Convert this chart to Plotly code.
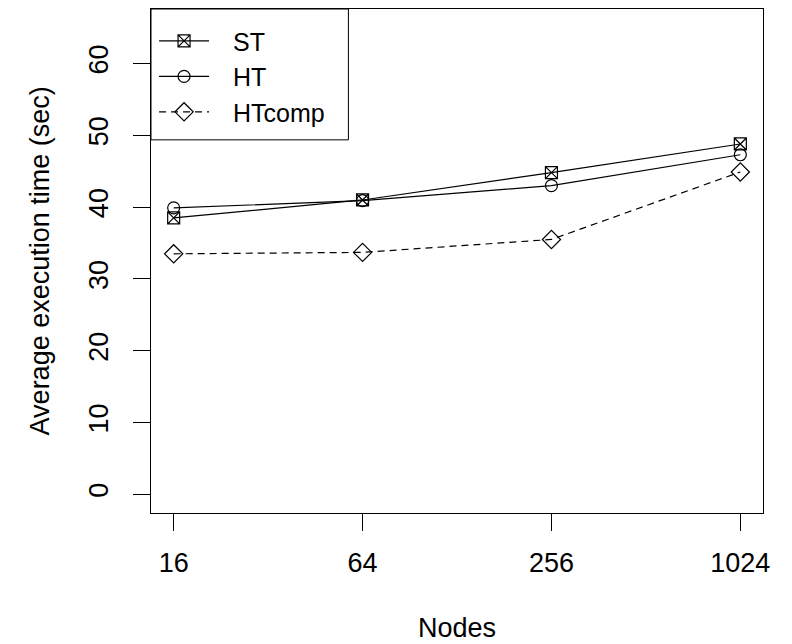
import plotly.graph_objects as go

nodes = ["16", "64", "256", "1024"]
st = [38.5, 41.0, 44.8, 48.8]
ht = [39.9, 40.9, 43.0, 47.3]
htcomp = [33.5, 33.7, 35.5, 44.9]
y_ticks = [0, 10, 20, 30, 40, 50, 60]
series_names = ["ST", "HT", "HTcomp"]

FONT = "Liberation Sans, Arial, Helvetica, sans-serif"
FS = 27
LFS = 25
W, H = 792, 644
L, R, T, B = 150.7, 28.7, 9.3, 131.3
pw, ph = W - L - R, H - T - B
PAD = "\u00a0\u00a0\u2009"

fig = go.Figure()
fig.add_trace(go.Scatter(x=nodes, y=st, name=PAD + series_names[0], mode="lines+markers",
                         line=dict(color="black", width=1.2),
                         marker=dict(symbol="square-x-open", size=12, color="black",
                                     line=dict(width=1.2, color="black"))))
fig.add_trace(go.Scatter(x=nodes, y=ht, name=PAD + series_names[1], mode="lines+markers",
                         line=dict(color="black", width=1.2),
                         marker=dict(symbol="circle-open", size=12, color="black",
                                     line=dict(width=1.2, color="black"))))
fig.add_trace(go.Scatter(x=nodes, y=htcomp, name=PAD + series_names[2], mode="lines+markers",
                         line=dict(color="black", width=1.2, dash="7px,5px"),
                         marker=dict(symbol="diamond-open", size=14, color="black",
                                     line=dict(width=1.2, color="black"))))

fig.update_layout(
    width=W, height=H,
    margin=dict(l=L, r=R, t=T, b=B, pad=0),
    paper_bgcolor="white", plot_bgcolor="white",
    font=dict(family=FONT, size=FS, color="black"),
    showlegend=True,
    legend=dict(x=0.005, y=0.982, xanchor="left", yanchor="top",
                bgcolor="rgba(0,0,0,0)", borderwidth=0,
                font=dict(family=FONT, size=LFS, color="black"),
                itemwidth=50, tracegroupgap=0),
    xaxis=dict(type="category", range=[-0.12, 3.12], showgrid=False, zeroline=False,
               showline=True, mirror=True, linecolor="black", linewidth=1,
               ticks="outside", ticklen=17, tickwidth=1, tickcolor="black",
               tickfont=dict(family=FONT, size=FS, color="black"),
               ticklabelstandoff=9),
    yaxis=dict(range=[-2.6, 67.6], tickvals=y_ticks, ticktext=[str(v) for v in y_ticks],
               showgrid=False, zeroline=False,
               showline=True, mirror=True, linecolor="black", linewidth=1,
               ticks="outside", ticklen=17, tickwidth=1, tickcolor="black",
               tickangle=-90,
               tickfont=dict(family=FONT, size=FS, color="black"),
               ticklabelstandoff=14),
    shapes=[dict(type="rect", xref="paper", yref="paper",
                 x0=0, x1=(348.3 - L) / pw, y0=(H - B - 140) / ph, y1=1,
                 line=dict(color="black", width=1), fillcolor="rgba(0,0,0,0)")],
    annotations=[
        dict(text="Nodes", xref="paper", yref="paper", x=0.5, y=(H - B - 628) / ph,
             xanchor="center", yanchor="middle", showarrow=False,
             font=dict(family=FONT, size=FS, color="black")),
        dict(text="Average execution time (sec)", xref="paper", yref="paper",
             x=(40 - L) / pw, y=0.5, xanchor="center", yanchor="middle",
             textangle=-90, showarrow=False,
             font=dict(family=FONT, size=FS, color="black")),
    ],
)

fig.write_html("out.html")
